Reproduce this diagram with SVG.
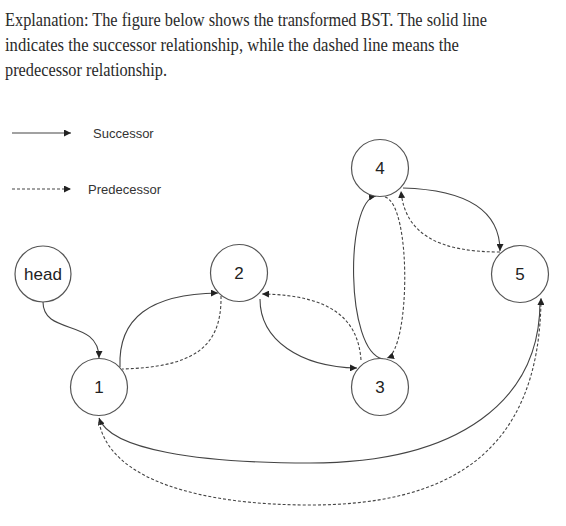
<svg xmlns="http://www.w3.org/2000/svg" width="566" height="526" viewBox="0 0 566 526">
  <defs>
    <marker id="arr" markerWidth="7" markerHeight="7" refX="7" refY="3.5" orient="auto" markerUnits="userSpaceOnUse">
      <path d="M0,0 L7,3.5 L0,7 z" fill="#222"/>
    </marker>
    <style>
      .hdr { font-family: "Liberation Serif", "DejaVu Serif", serif; font-size: 18px; fill: #2a2a2a; }
      .leg { font-family: "Liberation Sans", Arial, sans-serif; font-size: 13px; fill: #333; }
      .node circle { fill: #fff; stroke: #555; stroke-width: 1.2; }
      .node text { font-family: "Liberation Sans", Arial, sans-serif; font-size: 17px; fill: #222; text-anchor: middle; dominant-baseline: central; }
      .succ { fill: none; stroke: #444; stroke-width: 1.1; marker-end: url(#arr); }
      .pred { fill: none; stroke: #444; stroke-width: 1.1; stroke-dasharray: 3 2; marker-end: url(#arr); }
      .predn { fill: none; stroke: #444; stroke-width: 1.1; stroke-dasharray: 3 2; }
    </style>
  </defs>
  <rect width="566" height="526" fill="#fff"/>

  <g id="header">
    <text class="hdr" x="5" y="26" textLength="482" lengthAdjust="spacingAndGlyphs">Explanation: The figure below shows the transformed BST. The solid line</text>
    <text class="hdr" x="5" y="51" textLength="454" lengthAdjust="spacingAndGlyphs">indicates the successor relationship, while the dashed line means the</text>
    <text class="hdr" x="5" y="76" textLength="162" lengthAdjust="spacingAndGlyphs">predecessor relationship.</text>
  </g>

  <g id="legend">
    <path class="succ" d="M12,133 L71,133"/>
    <text class="leg" x="93" y="137.5">Successor</text>
    <path class="pred" d="M12,189 L71,189"/>
    <text class="leg" x="88" y="193.5">Predecessor</text>
  </g>

  <g id="connectors">
    <path class="succ" d="M43,302 C43,336 99,318 99,358"/>
    <path class="succ" d="M120,367 C118,318 150,294 218,293"/>
    <path class="predn" d="M221,296 C222,350 190,367 122,369"/>
    <path class="succ" d="M260,299 C260,340 300,367 357,368"/>
    <path class="pred" d="M361,360 C358,318 330,295 262,294"/>
    <path class="succ" d="M383,359 C345,352 345,200 376,196"/>
    <path class="pred" d="M385,197 C412,205 410,350 387,358"/>
    <path class="succ" d="M403,188 C470,190 500,212 500,251"/>
    <path class="pred" d="M500,252 C440,252 405,235 401,191"/>
    <path class="succ" d="M540,302 C540,400 460,463 310,463 C200,463 110,450 99,418"/>
    <path class="pred" d="M99,422 C110,480 200,505 310,505 C440,505 540,460 541,298"/>
  </g>

  <g id="node-head" class="node">
    <circle cx="43" cy="274" r="28"/>
    <text x="43" y="274">head</text>
  </g>
  <g id="node-1" class="node">
    <circle cx="99" cy="387" r="28.5"/>
    <text x="99" y="387">1</text>
  </g>
  <g id="node-2" class="node">
    <circle cx="239" cy="273" r="28.5"/>
    <text x="239" y="273">2</text>
  </g>
  <g id="node-3" class="node">
    <circle cx="380" cy="387" r="28.5"/>
    <text x="380" y="387">3</text>
  </g>
  <g id="node-4" class="node">
    <circle cx="380" cy="168" r="28.5"/>
    <text x="380" y="168">4</text>
  </g>
  <g id="node-5" class="node">
    <circle cx="520" cy="274" r="28.5"/>
    <text x="520" y="274">5</text>
  </g>
</svg>
